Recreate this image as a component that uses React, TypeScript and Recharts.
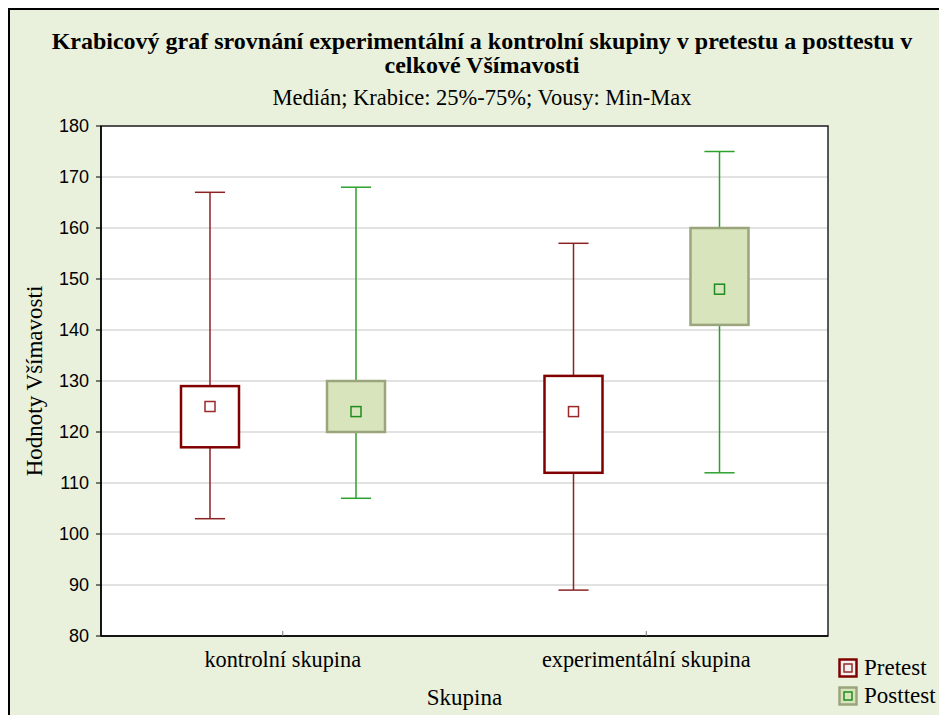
import React from "react";
import { ComposedChart, Bar, XAxis, YAxis, CartesianGrid, Legend, ReferenceArea } from "recharts";

const categories = ["kontrolní skupina", "experimentální skupina"];

const preMin = [103, 89];
const preQ1 = [117, 112];
const preMedian = [125, 124];
const preQ3 = [129, 131];
const preMax = [167, 157];

const postMin = [107, 112];
const postQ1 = [120, 141];
const postMedian = [124, 148];
const postQ3 = [130, 160];
const postMax = [168, 175];

const yTicks = [80, 90, 100, 110, 120, 130, 140, 150, 160, 170, 180];
const legendOrder = ["pre", "post"];

const data = categories.map((name, i) => ({
  name,
  pre: [preMin[i], preMax[i]],
  preStats: { min: preMin[i], q1: preQ1[i], med: preMedian[i], q3: preQ3[i], max: preMax[i] },
  post: [postMin[i], postMax[i]],
  postStats: { min: postMin[i], q1: postQ1[i], med: postMedian[i], q3: postQ3[i], max: postMax[i] },
}));

const SERIF = "'Liberation Serif', 'Times New Roman', serif";
const SANS = "'Liberation Sans', Arial, sans-serif";

const styles: any = {
  pre: { boxFill: "#ffffff", boxStroke: "#800000", whisker: "#8b2323", medStroke: "#9b2a2a", medFill: "#ffffff" },
  post: { boxFill: "#d8e4bc", boxStroke: "#9ba57c", whisker: "#2ca02c", medStroke: "#1e8c1e", medFill: "#d8e4bc" },
};

const boxShape = (key: string) => (props: any) => {
  const { x, y, width, height, payload } = props;
  const s = payload[key + "Stats"];
  const st = styles[key];
  const top = Math.min(y, y + height);
  const h = Math.abs(height);
  const k = h / (s.max - s.min);
  const py = (v: number) => top + (s.max - v) * k;
  const cx = x + width / 2;
  const cap = width * 0.26;
  return (
    <g>
      <line x1={cx} x2={cx} y1={py(s.max)} y2={py(s.min)} stroke={st.whisker} strokeWidth={1.5} />
      <line x1={cx - cap} x2={cx + cap} y1={py(s.max)} y2={py(s.max)} stroke={st.whisker} strokeWidth={1.5} />
      <line x1={cx - cap} x2={cx + cap} y1={py(s.min)} y2={py(s.min)} stroke={st.whisker} strokeWidth={1.5} />
      <rect x={x} y={py(s.q3)} width={width} height={py(s.q1) - py(s.q3)} fill={st.boxFill} stroke={st.boxStroke} strokeWidth={2.5} />
      <rect x={cx - 5} y={py(s.med) - 5} width={10} height={10} fill={st.medFill} stroke={st.medStroke} strokeWidth={1.5} />
    </g>
  );
};

const LegendIcon = ({ k }: { k: string }) => {
  const st = styles[k];
  return (
    <svg width={20} height={20} style={{ display: "block" }}>
      <rect x={1.5} y={1.5} width={17} height={17} fill={k === "pre" ? "#f2f2f2" : st.boxFill} stroke={st.boxStroke} strokeWidth={2.5} />
      <rect x={6} y={6} width={8} height={8} fill="none" stroke={st.medStroke} strokeWidth={1.5} />
    </svg>
  );
};

const renderLegend = (props: any) => {
  const items = [...(props.payload || [])].sort(
    (a: any, b: any) => legendOrder.indexOf(a.dataKey) - legendOrder.indexOf(b.dataKey)
  );
  return (
    <div>
      {items.map((it: any) => (
        <div key={it.value} style={{ display: "flex", alignItems: "center", height: 28 }}>
          <LegendIcon k={it.dataKey === "pre" ? "pre" : "post"} />
          <span style={{ marginLeft: 6, fontFamily: SERIF, fontSize: 23, color: "#000", lineHeight: "28px" }}>{it.value}</span>
        </div>
      ))}
    </div>
  );
};

export default function App() {
  return (
    <div
      style={{
        position: "relative",
        width: 939,
        height: 707,
        background: "#e9f0dc",
        boxShadow: "inset 2px 2px 0 #000",
        overflow: "hidden",
      }}
    >
      <div style={{ position: "absolute", left: 0, top: 21, width: 948, textAlign: "center", fontFamily: SERIF, fontWeight: "bold", fontSize: 24, lineHeight: "24px", color: "#000" }}>
        <div>Krabicový graf srovnání experimentální a kontrolní skupiny v pretestu a posttestu v</div>
        <div>celkové Všímavosti</div>
      </div>
      <div style={{ position: "absolute", left: 0, top: 77, width: 948, textAlign: "center", fontFamily: SERIF, fontSize: 22.5, lineHeight: "26px", color: "#000" }}>
        Medián; Krabice: 25%-75%; Vousy: Min-Max
      </div>
      <div style={{ position: "absolute", left: 0, top: 0 }}>
        <ComposedChart
          width={939}
          height={707}
          data={data}
          margin={{ top: 118, right: 119, bottom: 4, left: 0 }}
          barSize={58}
          barGap={88}
        >
          <CartesianGrid vertical={false} stroke="#d9d9d9" strokeWidth={1.5} fill="#ffffff" />
          <ReferenceArea y1={80} y2={180} fill="none" stroke="#222" strokeWidth={1.5} fillOpacity={0} ifOverflow="visible" />
          <XAxis
            dataKey="name"
            height={75}
            axisLine={{ stroke: "#000", strokeWidth: 1.5 }}
            tickLine={{ stroke: "#777" }}
            tickSize={-5}
            tickMargin={20}
            tick={{ fontFamily: SERIF, fontSize: 22.3, fill: "#000" }}
            label={{ value: "Skupina", position: "insideBottom", offset: 6, style: { fontFamily: SERIF, fontSize: 23, fill: "#000" } }}
          />
          <YAxis
            domain={[80, 180]}
            ticks={yTicks}
            width={93}
            interval={0}
            axisLine={{ stroke: "#000", strokeWidth: 1.5 }}
            tickLine={{ stroke: "#000" }}
            tickSize={5}
            tickMargin={7}
            tick={{ fontFamily: SANS, fontSize: 18, fill: "#000" }}
            label={{ value: "Hodnoty Všímavosti", angle: -90, position: "insideLeft", offset: 26, style: { textAnchor: "middle", fontFamily: SERIF, fontSize: 23, fill: "#000" } }}
          />
          <Legend
            layout="horizontal"
            verticalAlign="middle"
            align="center"
            content={renderLegend}
            wrapperStyle={{ left: 830, top: 646, width: 110 }}
          />
          <Bar dataKey="pre" name="Pretest" fill="#800000" shape={boxShape("pre")} isAnimationActive={false} />
          <Bar dataKey="post" name="Posttest" fill="#d8e4bc" shape={boxShape("post")} isAnimationActive={false} />
        </ComposedChart>
      </div>
    </div>
  );
}
